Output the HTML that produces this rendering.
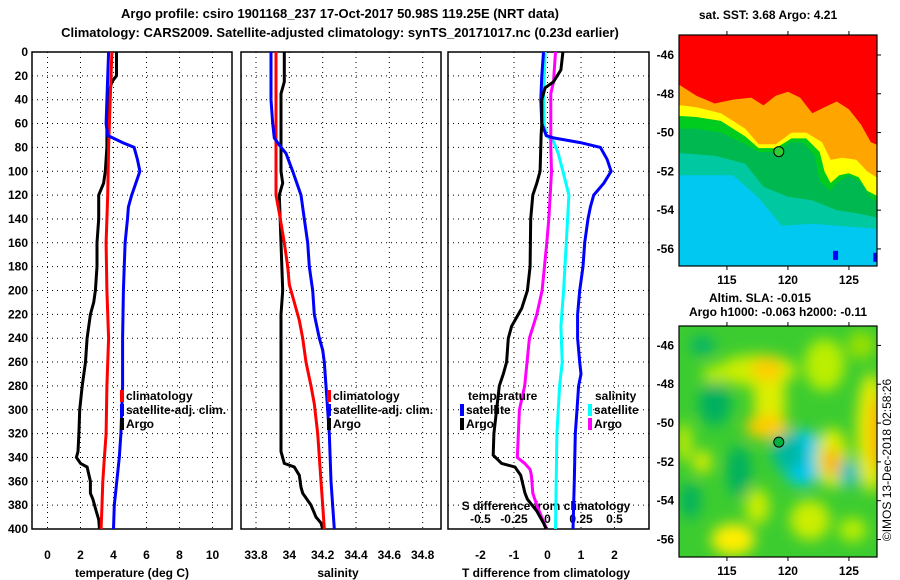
<!DOCTYPE html>
<html><head><meta charset="utf-8">
<style>
body{margin:0;background:#fff;}
svg{display:block;font-family:"Liberation Sans",sans-serif;font-weight:bold;}
</style></head>
<body>
<svg id="c" width="900" height="580" viewBox="0 0 900 580">
<defs>
<filter id="bl" x="-50%" y="-50%" width="200%" height="200%"><feGaussianBlur stdDeviation="7"/></filter>
<clipPath id="cl1"><rect x="679" y="35" width="198" height="231"/></clipPath>
<clipPath id="cl2"><rect x="679" y="326" width="198" height="231"/></clipPath>
</defs>
<text x="340" y="18" font-size="13" text-anchor="middle">Argo profile: csiro 1901168_237 17-Oct-2017 50.98S 119.25E (NRT data)</text>
<text x="340" y="37" font-size="13" text-anchor="middle">Climatology: CARS2009. Satellite-adjusted climatology: synTS_20171017.nc (0.23d earlier)</text>
<g id="g"></g>
<text x="768" y="19" font-size="12" text-anchor="middle">sat. SST: 3.68 Argo: 4.21</text>
<text x="760" y="302" font-size="12" text-anchor="middle">Altim. SLA: -0.015</text>
<text x="778" y="316" font-size="12" text-anchor="middle">Argo h1000: -0.063 h2000: -0.11</text>
<text transform="translate(891,460) rotate(-90)" font-size="12" font-weight="normal" text-anchor="middle">©IMOS 13-Dec-2018 02:58:26</text>
</svg>
<script>
const depths1=[0,5,20,25,30,40,60,70,80,100,110,120,140,160,180,200,210,220,240,260,280,300,320,335,340,345,348,360,370,375,385,392,400];
const argoT=[4.18,4.18,4.18,3.9,3.8,3.7,3.6,3.6,3.6,3.5,3.4,3.1,3.1,3.0,3.0,2.9,2.8,2.6,2.4,2.3,2.1,1.95,1.9,1.85,1.75,2.0,2.4,2.6,2.6,2.75,2.95,3.1,3.15];
const depthsClimT=[0,40,80,120,160,200,240,280,320,340,360,380,400];
const climT=[3.9,3.8,3.7,3.65,3.55,3.6,3.7,3.6,3.55,3.45,3.35,3.3,3.25];
const depthsSatT=[0,40,60,70,72,76,80,90,100,110,120,130,140,160,200,240,280,320,340,360,380,400];
const satT=[3.7,3.6,3.55,3.65,3.95,4.55,5.25,5.45,5.6,5.35,5.1,4.9,4.85,4.7,4.6,4.55,4.55,4.45,4.35,4.2,4.05,4.0];
const depthsArgoS=[0,5,25,35,60,100,110,120,200,220,300,335,345,348,355,365,370,380,390,395,400];
const argoS=[33.97,33.97,33.97,33.95,33.95,33.95,33.96,33.94,33.96,33.95,33.95,33.95,33.97,34.03,34.06,34.07,34.08,34.13,34.16,34.19,34.2];
const depthsClimS=[0,40,80,110,120,135,160,180,195,210,225,240,260,280,295,320,360,380,400];
const climS=[33.92,33.92,33.92,33.92,33.92,33.94,33.97,33.99,34.0,34.03,34.06,34.08,34.1,34.13,34.15,34.17,34.19,34.2,34.21];
const depthsSatS=[0,40,60,72,78,85,100,120,140,160,180,200,220,240,250,260,280,320,360,400];
const satS=[33.89,33.89,33.9,33.91,33.94,33.98,34.02,34.07,34.09,34.11,34.12,34.14,34.15,34.18,34.2,34.21,34.22,34.24,34.25,34.27];
const depthsDT=[0,20,40,60,70,72,76,80,90,100,110,120,130,140,160,180,200,220,240,260,270,280,300,320,360,400];
const dTsat=[-0.12,-0.17,-0.2,-0.17,-0.04,0.18,0.98,1.58,1.78,1.9,1.68,1.38,1.28,1.21,1.11,1.06,0.96,0.9,0.9,0.96,1.0,0.93,0.88,0.83,0.8,0.76];
const depthsDTA=[0,15,25,30,40,60,70,100,110,120,140,180,200,215,230,240,260,270,280,300,320,338,345,348,355,370,375,385,395,400];
const dTargo=[0.46,0.4,0.18,-0.07,-0.17,-0.17,-0.19,-0.22,-0.32,-0.44,-0.5,-0.52,-0.6,-0.77,-1.07,-1.17,-1.22,-1.32,-1.44,-1.52,-1.6,-1.62,-1.37,-0.97,-0.8,-0.67,-0.6,-0.32,-0.12,-0.04];
const depthsDS=[0,40,60,70,75,85,100,120,160,200,230,260,280,320,400];
const dSsat=[-0.0175,-0.03,-0.025,-0.01,0.045,0.08,0.115,0.16,0.14,0.12,0.1,0.11,0.09,0.07,0.06];
const depthsDSA=[0,25,35,70,80,100,120,140,160,200,220,240,280,300,340,345,350,355,370,380,395,400];
const dSargo=[0.06,0.045,0.025,0.025,0.025,0.03,0.02,0.01,-0.005,-0.04,-0.08,-0.135,-0.17,-0.21,-0.225,-0.17,-0.13,-0.12,-0.11,-0.08,-0.025,-0.005];
const depthTicks=[0,20,40,60,80,100,120,140,160,180,200,220,240,260,280,300,320,340,360,380,400];
const tTicks=[0,2,4,6,8,10];
const sTicks=[33.8,34,34.2,34.4,34.6,34.8];
const sTickLabels=["33.8","34","34.2","34.4","34.6","34.8"];
const dTTicks=[-2,-1,0,1,2];
const dSTicks=[-0.5,-0.25,0,0.25,0.5];
const dSTickLabels=["-0.5","-0.25","0","0.25","0.5"];
const latTicks=[-46,-48,-50,-52,-54,-56];
const lonTicks=[115,120,125];

const NS="http://www.w3.org/2000/svg";
const G=document.getElementById('g');
function mk(tag,at,parent){const e=document.createElementNS(NS,tag);for(const k in at)e.setAttribute(k,at[k]);(parent||G).appendChild(e);return e;}
const Y0=52,Y1=529;
const yD=d=>Y0+d/400*(Y1-Y0);
function xs(l,r,a,b){return v=>l+(v-a)/(b-a)*(r-l);}
const xT=xs(32,232,-0.94,11.18);
const xS=xs(241,441,33.71,34.91);
const xDT=xs(448,649,-2.97,3.03);
const xDS=v=>xDT(v*4);

function panel(name,l,r,xf,ticks,labels,title,titleX){
  const g=mk('g',{});
  
  
  for(const d of depthTicks){const ln=mk('line',{x1:l,x2:r,y1:yD(d),y2:yD(d),stroke:'#000','stroke-width':1,'stroke-dasharray':'1 4'},g);
    }
  ticks.forEach((t,i)=>{const x=xf(t);const ln=mk('line',{x1:x,x2:x,y1:Y0,y2:Y1,stroke:'#000','stroke-width':1,'stroke-dasharray':'1 4'},g);
    
    if(labels){const tx=mk('text',{x:x,y:559,'font-size':12,'text-anchor':'middle'},g);tx.textContent=labels[i];
    }});
  const b=mk('rect',{x:l,y:Y0,width:r-l,height:Y1-Y0,fill:'none',stroke:'#000','stroke-width':1.5},g);
  
  const tt=mk('text',{x:titleX,y:577,'font-size':12,'text-anchor':'middle'},g);tt.textContent=title;
  
  return g;
}
function series(name,xf,ds,vs,col){
  let p='';ds.forEach((d,i)=>{p+=(i?'L':'M')+xf(vs[i]).toFixed(1)+' '+yD(d).toFixed(1);});
  const e=mk('path',{d:p,fill:'none',stroke:col,'stroke-width':3});
  
}
panel('temperature-panel',32,232,xT,tTicks,tTicks.map(String),'temperature (deg C)',132);
panel('salinity-panel',241,441,xS,sTicks,sTickLabels,'salinity',338);
const p3=panel('difference-panel',448,649,xDT,dTTicks,dTTicks.map(String),'T difference from climatology',546);
dSTicks.forEach((t,i)=>{const tx=mk('text',{x:xDS(t),y:523,'font-size':12,'text-anchor':'middle'},p3);tx.textContent=dSTickLabels[i];
  });
const sdt=mk('text',{x:546,y:510,'font-size':12,'text-anchor':'middle'},p3);sdt.textContent='S difference from climatology';

depthTicks.forEach(d=>{const tx=mk('text',{x:28,y:yD(d)+4,'font-size':12,'text-anchor':'end'});tx.textContent=d;
  });

series('argo-temperature-line',xT,depths1,argoT,'#000');
series('climatology-temperature-line',xT,depthsClimT,climT,'#f00');
series('satellite-temperature-line',xT,depthsSatT,satT,'#00f');
series('argo-salinity-line',xS,depthsArgoS,argoS,'#000');
series('climatology-salinity-line',xS,depthsClimS,climS,'#f00');
series('satellite-salinity-line',xS,depthsSatS,satS,'#00f');
series('satellite-s-diff-line',xDS,depthsDS,dSsat,'#0ff');
series('argo-s-diff-line',xDS,depthsDSA,dSargo,'#f0f');
series('satellite-t-diff-line',xDT,depthsDT,dTsat,'#00f');
series('argo-t-diff-line',xDT,depthsDTA,dTargo,'#000');

function leg(name,x,y,col,label){const g=mk('g',{});
  mk('rect',{x:x,y:y-6,width:4,height:12,fill:col},g);const t=mk('text',{x:x+6,y:y+4,'font-size':12},g);t.textContent=label;}
leg('legend-climatology-t',120,396,'#f00','climatology');
leg('legend-satellite-t',120,410,'#00f','satellite-adj. clim.');
leg('legend-argo-t',120,424,'#000','Argo');
leg('legend-climatology-s',327,396,'#f00','climatology');
leg('legend-satellite-s',327,410,'#00f','satellite-adj. clim.');
leg('legend-argo-s',327,424,'#000','Argo');
{const t=mk('text',{x:468,y:400,'font-size':12});t.textContent='temperature';}
{const t=mk('text',{x:595,y:400,'font-size':12});t.textContent='salinity';}
leg('legend-satellite-dt',460,410,'#00f','satellite');
leg('legend-argo-dt',460,424,'#000','Argo');
leg('legend-satellite-ds',588,410,'#0ff','satellite');
leg('legend-argo-ds',588,424,'#f0f','Argo');

function mapAxes(name,top,bot,latTop,latBot){
  const L=679,R=877;
  const lonX=xs(L,R,111.07,127.3), latY=xs(top,bot,latTop,latBot);
  return {lonX,latY,L,R,top,bot};
}
const m1=mapAxes('sst',35,266,-44.97,-56.88);
const m2=mapAxes('sla',326,557,-45.0,-56.9);
function poly(m,pts,fill,parent){let d='';pts.forEach((p,i)=>{d+=(i?'L':'M')+m.lonX(p[0]).toFixed(1)+' '+m.latY(p[1]).toFixed(1);});
  return mk('path',{d:d+'Z',fill:fill},parent);}
const g1=mk('g',{'clip-path':'url(#cl1)'});
mk('rect',{x:679,y:35,width:198,height:231,fill:'#00c8f0'},g1);
poly(m1,[[110,-44],[128,-44],[128,-55],[122,-54.7],[119.5,-54.8],[117.5,-53.3],[115.5,-52.2],[110,-52.2]],'#00c8a0',g1);
poly(m1,[[110,-44],[128,-44],[128,-54.5],[126,-54.2],[124,-54],[122,-53.5],[120,-53.3],[118,-52.8],[116.5,-51.6],[114,-51.2],[110,-51]],'#00b850',g1);
poly(m1,[[110,-44],[128,-44],[128,-53.8],[126.8,-53.4],[126,-52.6],[125,-52.2],[124,-52.6],[123.5,-53],[122.6,-52.5],[122.2,-51.2],[121.2,-50.5],[120.2,-50.5],[119.2,-51],[117.6,-51],[116.5,-50.6],[114.5,-50],[112.5,-49.8],[110,-49.8]],'#00cc20',g1);
poly(m1,[[110,-44],[128,-44],[128,-53.5],[126.5,-53],[125.8,-52.3],[125,-52.1],[124.2,-52.2],[123.5,-52.6],[123,-52],[122.6,-51],[121.5,-50.3],[120.3,-50.3],[119,-50.8],[117.6,-50.8],[116.5,-50.2],[114.5,-49.4],[112.5,-49.2],[110,-49.1]],'#ffff00',g1);
poly(m1,[[110,-44],[128,-44],[128,-52.6],[126.5,-52],[125.6,-51.4],[124.5,-51.3],[123.5,-51.4],[122.8,-50.5],[121.5,-50],[120.3,-50],[119,-50.6],[117.6,-50.6],[116.5,-49.8],[114.5,-49],[112.5,-48.7],[110,-48.5]],'#ffa500',g1);
poly(m1,[[110,-44],[128,-44],[128,-50.8],[126.8,-50.5],[126,-49.6],[125,-48.8],[124,-48.4],[123,-48.7],[122,-49],[121,-48.2],[120,-47.9],[119,-48.1],[118,-48.6],[117,-48.2],[115.5,-48.3],[114,-48.5],[112.5,-48.1],[111,-47.5],[110,-47.4]],'#ff0000',g1);
mk('rect',{x:m1.lonX(123.7),y:m1.latY(-56.1),width:5,height:9,fill:'#0000ff'},g1);
mk('rect',{x:m1.lonX(127),y:m1.latY(-56.2),width:4,height:9,fill:'#0000ff'},g1);
mk('circle',{cx:m1.lonX(119.25),cy:m1.latY(-50.98),r:5,fill:'#33cc33',stroke:'#000','stroke-width':1},g1);

const g2=mk('g',{'clip-path':'url(#cl2)'});
mk('rect',{x:679,y:326,width:198,height:231,fill:'#3ccc30'},g2);
const gb=mk('g',{filter:'url(#bl)'},g2);
const blobs=[[113,-46,12,9,'#00b070'],[114,-49,16,22,'#00b060'],[116,-52.5,12,26,'#00b060'],[112,-54,10,18,'#00b060'],[117.5,-47.3,40,16,'#ccee00'],[118.5,-48.8,16,40,'#ddee00'],[118.3,-47.2,16,12,'#ffcc00'],[118.3,-50.2,22,12,'#ffcc00'],[121.2,-51.8,22,28,'#00c8f0'],[120,-51.5,16,20,'#00b8a0'],[123.6,-51.8,16,30,'#ddee00'],[123.6,-52,9,14,'#ffb000'],[126.8,-50.5,14,60,'#eeee00'],[127.4,-50.5,8,38,'#ffaa00'],[125,-52.6,10,14,'#00c0c0'],[123,-47,20,26,'#bbee00'],[126,-46,14,14,'#99e000'],[113,-52,9,12,'#ddee00'],[115.5,-56,22,16,'#ffee00'],[117.5,-54.3,12,18,'#ccee00'],[121.8,-55,20,20,'#ccee00'],[125.3,-55.5,14,12,'#bbee00'],[111.5,-51,7,20,'#ccee00'],[114,-47.5,12,9,'#bbee00']];
blobs.forEach(b=>{mk('ellipse',{cx:m2.lonX(b[0]),cy:m2.latY(b[1]),rx:b[2],ry:b[3],fill:b[4]},gb);});
mk('circle',{cx:m2.lonX(119.25),cy:m2.latY(-50.98),r:5,fill:'#00b040',stroke:'#000','stroke-width':1},g2);

[m1,m2].forEach((m,k)=>{
  const fr=mk('rect',{x:m.L,y:m.top,width:m.R-m.L,height:m.bot-m.top,fill:'none',stroke:'#000','stroke-width':1.2});
  
  latTicks.forEach(la=>{const y=m.latY(la);mk('line',{x1:m.R,x2:m.R+4,y1:y,y2:y,stroke:'#000'});
    const t=mk('text',{x:674,y:y+4,'font-size':12,'text-anchor':'end'});t.textContent=la;
    });
  lonTicks.forEach(lo=>{const x=m.lonX(lo);mk('line',{x1:x,x2:x,y1:m.top-4,y2:m.top,stroke:'#000'});mk('line',{x1:x,x2:x,y1:m.bot,y2:m.bot+4,stroke:'#000'});
    const t=mk('text',{x:x,y:m.bot+18,'font-size':12,'text-anchor':'middle'});t.textContent=lo;
    });
});
</script>
</body></html>
